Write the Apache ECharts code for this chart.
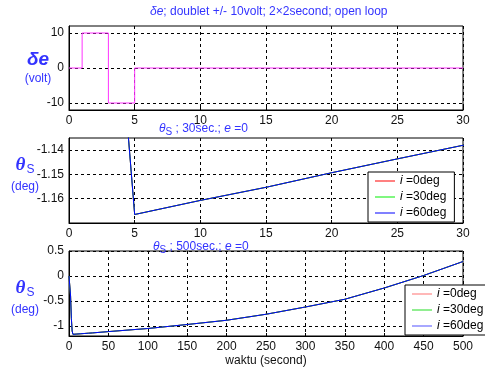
<!DOCTYPE html>
<html>
<head>
<meta charset="utf-8">
<script src="https://cdn.jsdelivr.net/npm/echarts@6/dist/echarts.min.js"></script>
<style>html,body{margin:0;padding:0;background:#fff}#c{width:485px;height:373px}</style>
</head>
<body>
<div id="c"></div>
<script>
// ---- data ----
const tDe = [0, 1, 1, 3, 3, 5, 5, 30];
const vDe = [0, 0, 10, 10, -10, -10, 0, 0];
const tTheta = [0, 1, 2, 3, 4, 5, 10, 15, 20, 25, 30, 50, 100, 150, 200, 250, 300, 350, 400, 450, 500];
const vTheta = [0, 0, -0.4, -0.85, -1.10, -1.1665, -1.1607, -1.1553, -1.1493, -1.1436, -1.138, -1.112, -1.05, -0.97, -0.885, -0.765, -0.62, -0.465, -0.24, 0.01, 0.29];
const ticksDe = [-10, 0, 10];
const ticks30 = [-1.16, -1.15, -1.14];
const ticks500 = [-1, -0.5, 0, 0.5];
const seriesNames = ['i=0deg', 'i=30deg', 'i=60deg'];
const seriesColors = ['#ff0000', '#00ee00', '#0000ff'];
const legend3Colors = ['#ff7070', '#22dd22', '#5050ff'];

const deData = tDe.map((t, i) => [t, vDe[i]]);
const thData = tTheta.map((t, i) => [t, vTheta[i]]);

const BLUE = '#3333ff';
const FONT = 'Liberation Sans';

function xAx(gi, max, interval, extra) {
  return Object.assign({
    type: 'value', gridIndex: gi, min: 0, max: max, interval: interval,
    axisLine: {show: true, onZero: false, lineStyle: {color: '#000', width: 1}},
    axisTick: {show: true, inside: true, length: 3, lineStyle: {color: '#000'}},
    axisLabel: {color: '#111', fontSize: 12, fontFamily: FONT, margin: 5},
    splitLine: {show: true, lineStyle: {color: '#000', type: [3, 3], width: 1}}
  }, extra || {});
}
function yAx(gi, min, max, ticks, name, fmt, pad, gap) {
  return {
    type: 'value', gridIndex: gi, min: min, max: max,
    axisLine: {show: true, onZero: false, lineStyle: {color: '#000', width: 1}},
    axisTick: {show: true, inside: true, length: 3, customValues: ticks, lineStyle: {color: '#000'}},
    axisLabel: {color: '#111', fontSize: 12, fontFamily: FONT, margin: 5, customValues: ticks, formatter: fmt},
    splitLine: {show: true, lineStyle: {color: '#000', type: [3, 3], width: 1}},
    name: name, nameLocation: 'middle', nameRotate: 0, nameGap: gap, nameMoveOverlap: false,
    nameTextStyle: {
      align: 'center',
      padding: pad,
      rich: {
        de: {fontSize: 19, fontWeight: 'bold', fontStyle: 'italic', color: BLUE, fontFamily: FONT, lineHeight: 22, align: 'center'},
        th: {fontSize: 19, fontWeight: 'bold', fontStyle: 'italic', color: BLUE, fontFamily: 'Liberation Serif', lineHeight: 28},
        s: {fontSize: 12, color: BLUE, fontFamily: FONT, padding: [10, 0, 0, 1]},
        u: {fontSize: 12, color: BLUE, fontFamily: FONT, lineHeight: 16, align: 'center'}
      }
    }
  };
}

const titleRich = {
  i: {fontStyle: 'italic', fontSize: 12, color: BLUE, fontFamily: FONT},
  t: {fontStyle: 'italic', fontSize: 12, color: BLUE, fontFamily: FONT},
  s: {fontSize: 10, color: BLUE, fontFamily: FONT, padding: [7, 0, 0, 0]}
};
function title(text, left, top) {
  return {text: text, left: left, top: top, padding: 0,
    textStyle: {fontSize: 12, fontWeight: 'normal', color: BLUE, fontFamily: FONT, rich: titleRich}};
}

function legend(left, top, colors) {
  return {
    data: seriesNames.map((n, i) => ({name: n, itemStyle: {color: colors[i]}})),
    left: left, top: top, orient: 'vertical',
    icon: 'path://M0,0h20v1h-20z',
    backgroundColor: '#fff', borderColor: '#000', borderWidth: 1, borderRadius: 0,
    padding: [3, 8, 3, 7], itemWidth: 20, itemHeight: 10, itemGap: 4,
    selectedMode: false,
    textStyle: {fontSize: 12, color: '#000', fontFamily: FONT, rich: {i: {fontStyle: 'italic', fontSize: 12, fontFamily: FONT}}},
    formatter: n => '{i|i} =' + n.slice(2)
  };
}

function thetaSeries(xi) {
  return seriesNames.map((n, i) => ({
    name: n, type: 'line', xAxisIndex: xi, yAxisIndex: xi, data: thData,
    symbol: 'none', color: seriesColors[i], lineStyle: {width: 1, color: seriesColors[i]},
    clip: true, z: 2 + i
  }));
}

const option = {
  animation: false,
  backgroundColor: '#fff',
  title: [
    title('{i|δe}; doublet +/- 10volt; 2×2second; open loop', 150, 6),
    title('{t|θ}{s|S} ; 30sec.; {i|e} =0', 159, 120),
    title('{t|θ}{s|S} ; 500sec.; {i|e} =0', 153, 238)
  ],
  grid: [
    {left: 69, right: 22, top: 26, height: 84, show: true, borderColor: '#000', borderWidth: 1},
    {left: 69, right: 22, top: 138, height: 85, show: true, borderColor: '#000', borderWidth: 1},
    {left: 69, right: 22, top: 251, height: 85, show: true, borderColor: '#000', borderWidth: 1}
  ],
  xAxis: [
    xAx(0, 30, 5),
    xAx(1, 30, 5),
    xAx(2, 500, 50, {name: 'waktu (second)', nameLocation: 'middle', nameGap: 19,
      nameTextStyle: {fontSize: 12, color: '#111', fontFamily: FONT}})
  ],
  yAxis: [
    yAx(0, -12, 12, ticksDe, '{de|δe}\n{u|(volt)}', v => String(v), [0, 0, 0, 0], 31),
    yAx(1, -1.17, -1.135, ticks30, '{th|θ}{s|S}\n{u|(deg)}', v => v.toFixed(2), [0, 0, 15, 0], 44),
    yAx(2, -1.2, 0.5, ticks500, '{th|θ}{s|S}\n{u|(deg)}', v => String(v), [5, 0, 0, 0], 44)
  ],
  legend: [legend(368, 172, seriesColors), legend(405, 285, legend3Colors)],
  series: [
    {name: 'de', type: 'line', xAxisIndex: 0, yAxisIndex: 0, data: deData, symbol: 'none',
      color: '#ff33ff', lineStyle: {width: 1, color: '#ff33ff'}, clip: true}
  ].concat(thetaSeries(1)).concat(thetaSeries(2))
};

const chart = echarts.init(document.getElementById('c'), null, {renderer: 'canvas'});
chart.setOption(option);
</script>
</body>
</html>
